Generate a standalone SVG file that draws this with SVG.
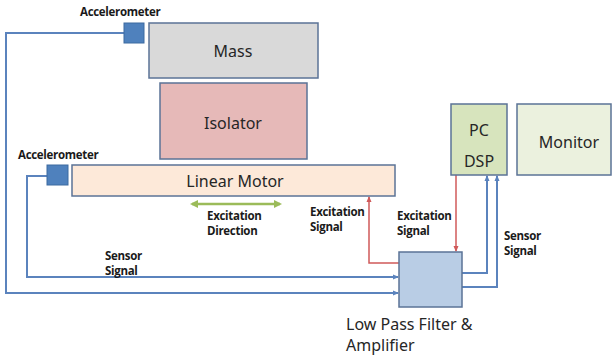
<svg xmlns="http://www.w3.org/2000/svg" width="612" height="359" viewBox="0 0 612 359">
<style>
.box{stroke:#5b7396;stroke-width:1.5}
.big{font-family:"Noto Sans","Open Sans",sans-serif;font-size:16px;fill:#262626;text-anchor:middle}
.lbl{font-family:"Open Sans","Noto Sans",sans-serif;font-size:11.5px;font-weight:bold;fill:#1a1a1a;letter-spacing:-0.3px}
.blue{fill:none;stroke:#5b83bd;stroke-width:2}
.red{fill:none;stroke:#d05a5a;stroke-width:1.5}
</style>
<defs>
<marker id="ab" markerWidth="6" markerHeight="6" refX="5" refY="3" orient="auto" markerUnits="userSpaceOnUse"><path d="M0,0.5 L6,3 L0,5.5 z" fill="#5b83bd"/></marker>
<marker id="ar" markerWidth="6" markerHeight="6" refX="5" refY="3" orient="auto" markerUnits="userSpaceOnUse"><path d="M0,0.5 L6,3 L0,5.5 z" fill="#d05a5a"/></marker>
<marker id="ag" markerWidth="8" markerHeight="8" refX="6" refY="4" orient="auto-start-reverse" markerUnits="userSpaceOnUse"><path d="M0,0 L8,4 L0,8 z" fill="#9bbb59"/></marker>
</defs>
<g id="connectors">
<polyline class="blue" points="124,33 6,33 6,293 398,293" marker-end="url(#ab)"/>
<polyline class="blue" points="47,176 27,176 27,277 398,277" marker-end="url(#ab)"/>
<polyline class="red" points="399,263 369,263 369,197" marker-end="url(#ar)"/>
<polyline class="red" points="456,175 456,251" marker-end="url(#ar)"/>
<polyline class="blue" points="462,273 487,273 487,176" marker-end="url(#ab)"/>
<polyline class="blue" points="462,287 497,287 497,176" marker-end="url(#ab)"/>
<line x1="192" y1="204" x2="280" y2="204" stroke="#9bbb59" stroke-width="2.5" marker-start="url(#ag)" marker-end="url(#ag)"/>
</g>
<g id="mass"><rect class="box" x="149" y="23" width="169" height="55" fill="#d9d9d9"/><text class="big" x="233" y="57">Mass</text></g>
<g id="isolator"><rect class="box" x="160" y="83" width="147" height="76" fill="#e6b9b8"/><text class="big" x="233" y="129">Isolator</text></g>
<g id="linear-motor"><rect class="box" x="72" y="165" width="323" height="31" fill="#fde9d9"/><text class="big" x="235" y="187">Linear Motor</text></g>
<g id="accel-top"><rect x="124" y="23" width="20" height="20" fill="#4f81bd" stroke="#3d6aa0" stroke-width="1"/><text class="lbl" x="80" y="16">Accelerometer</text></g>
<g id="accel-bottom"><rect x="47" y="165" width="21" height="20" fill="#4f81bd" stroke="#3d6aa0" stroke-width="1"/><text class="lbl" x="18" y="159">Accelerometer</text></g>
<g id="pc-dsp"><rect class="box" x="451" y="104" width="56" height="71" fill="#d7e4bd"/><text class="big" x="479" y="136">PC</text><text class="big" x="479" y="167">DSP</text></g>
<g id="monitor"><rect class="box" x="517" y="104" width="94" height="71" fill="#ebf1de"/><text class="big" x="569" y="148">Monitor</text></g>
<g id="lpf"><rect class="box" x="399" y="252" width="63" height="55" fill="#b9cde5"/><text class="big" x="346" y="330" style="text-anchor:start">Low Pass Filter &amp;</text><text class="big" x="346" y="351" style="text-anchor:start">Amplifier</text></g>
<g id="labels">
<text class="lbl" x="207" y="220">Excitation</text><text class="lbl" x="207" y="235">Direction</text>
<text class="lbl" x="310" y="216">Excitation</text><text class="lbl" x="310" y="231">Signal</text>
<text class="lbl" x="397" y="220">Excitation</text><text class="lbl" x="397" y="235">Signal</text>
<text class="lbl" x="504" y="240">Sensor</text><text class="lbl" x="504" y="255">Signal</text>
<text class="lbl" x="105" y="260">Sensor</text><text class="lbl" x="105" y="275">Signal</text>
</g>
</svg>
